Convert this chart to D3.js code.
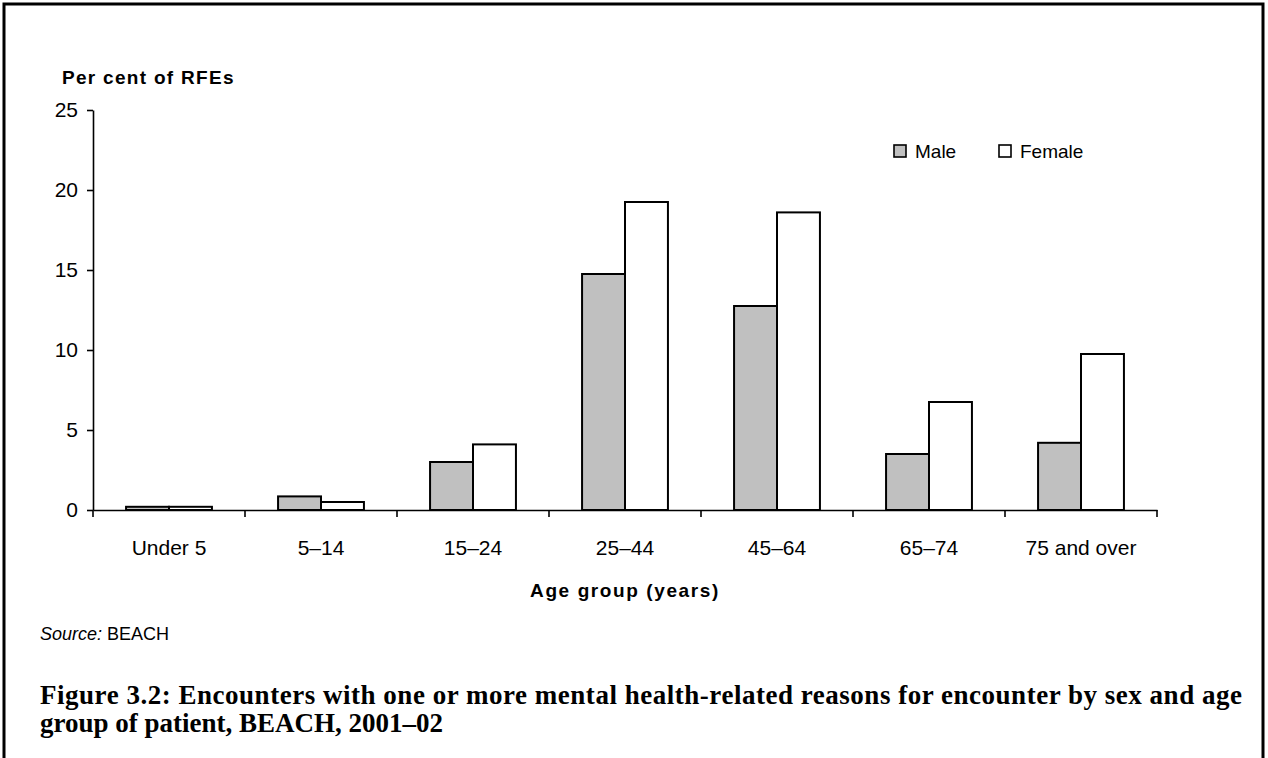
<!DOCTYPE html>
<html>
<head>
<meta charset="utf-8">
<script src="https://cdn.jsdelivr.net/npm/d3@7"></script>
<style>
  body { margin: 0; background: #fff; }
  text { font-family: Arial, "Liberation Sans", sans-serif; fill: #000; }
</style>
</head>
<body>
<div id="wrapper"></div>
<script>
// data
const ageGroups = ["Under 5", "5\u201314", "15\u201324", "25\u201344", "45\u201364", "65\u201374", "75 and over"]
const sexes = ["Male", "Female"]
const maleValues = [0.2, 0.85, 3.0, 14.75, 12.75, 3.5, 4.2]
const femaleValues = [0.2, 0.5, 4.1, 19.25, 18.6, 6.75, 9.75]
const yTicks = [0, 5, 10, 15, 20, 25]
const sexFill = { Male: "#c0c0c0", Female: "#ffffff" }

function drawChart() {
  const data = ageGroups.map((g, i) => ({
    group: g,
    values: [
      { sex: "Male", value: maleValues[i] },
      { sex: "Female", value: femaleValues[i] },
    ],
  }))

  // 1. dimensions
  let dimensions = {
    width: 1268,
    height: 758,
    margin: { top: 110, right: 111, bottom: 248, left: 93 },
  }
  dimensions.boundedWidth = dimensions.width - dimensions.margin.left - dimensions.margin.right
  dimensions.boundedHeight = dimensions.height - dimensions.margin.top - dimensions.margin.bottom

  // 2. canvas
  const wrapper = d3.select("#wrapper")
    .append("svg")
      .attr("width", dimensions.width)
      .attr("height", dimensions.height)

  // page frame (open at the bottom)
  wrapper.append("path")
      .attr("d", "M4,758V4H1263V758")
      .attr("fill", "none")
      .attr("stroke", "#000")
      .attr("stroke-width", 3)

  const bounds = wrapper.append("g")
      .attr("transform", `translate(${dimensions.margin.left},${dimensions.margin.top})`)

  // 3. scales
  const xScale = d3.scaleBand()
      .domain(ageGroups)
      .range([0, dimensions.boundedWidth])
  const sexScale = d3.scaleBand()
      .domain(sexes)
      .range([0, xScale.bandwidth()])
      .paddingOuter(0.77)
  const yScale = d3.scaleLinear()
      .domain([0, 25])
      .range([dimensions.boundedHeight, 0])

  // 4. bars
  const groups = bounds.append("g")
    .selectAll("g")
    .data(data)
    .join("g")
      .attr("transform", d => `translate(${xScale(d.group)},0)`)

  groups.selectAll("rect")
    .data(d => d.values)
    .join("rect")
      .attr("x", d => sexScale(d.sex))
      .attr("y", d => yScale(d.value))
      .attr("width", sexScale.bandwidth())
      .attr("height", d => yScale(0) - yScale(d.value))
      .attr("fill", d => sexFill[d.sex])
      .attr("stroke", "#000")
      .attr("stroke-width", 2)

  // 5. axes
  const yAxis = bounds.append("g")
      .call(d3.axisLeft(yScale).tickValues(yTicks).tickSize(6).tickPadding(9).tickSizeOuter(0))
  yAxis.select(".domain").attr("stroke-width", 1.6)
  yAxis.selectAll(".tick line").attr("stroke-width", 1.6)
  yAxis.selectAll("text")
      .style("font-size", "21px")

  const xAxis = bounds.append("g")
      .attr("transform", `translate(0,${dimensions.boundedHeight})`)
      .call(d3.axisBottom(xScale).tickSize(0).tickPadding(38).tickSizeOuter(0))
  xAxis.select(".domain").attr("stroke-width", 1.6)
  xAxis.selectAll("text")
      .style("font-size", "21px")
      .attr("dy", "0.32em")

  // category separators on the x axis
  const boundaries = ageGroups.map(g => xScale(g)).concat([xScale.range()[1]])
  xAxis.selectAll(".sep")
    .data(boundaries)
    .join("line")
      .attr("class", "sep")
      .attr("x1", d => d)
      .attr("x2", d => d)
      .attr("y1", 0)
      .attr("y2", 7)
      .attr("stroke", "#000")
      .attr("stroke-width", 1.6)

  // 6. peripherals
  wrapper.append("text")
      .attr("x", 62)
      .attr("y", 84)
      .style("font-size", "19px")
      .attr("font-weight", "bold")
      .attr("letter-spacing", 1.3)
      .text("Per cent of RFEs")

  wrapper.append("text")
      .attr("x", dimensions.margin.left + dimensions.boundedWidth / 2)
      .attr("y", 597)
      .attr("text-anchor", "middle")
      .style("font-size", "19px")
      .attr("font-weight", "bold")
      .attr("letter-spacing", 1.6)
      .text("Age group (years)")

  // legend
  const legend = wrapper.append("g")
      .attr("transform", "translate(894,145)")
  const legendItems = legend.selectAll("g")
    .data(sexes)
    .join("g")
      .attr("transform", (d, i) => `translate(${i * 105},0)`)
  legendItems.append("rect")
      .attr("width", 12)
      .attr("height", 12)
      .attr("fill", d => sexFill[d])
      .attr("stroke", "#000")
      .attr("stroke-width", 1.6)
  legendItems.append("text")
      .attr("x", 21)
      .attr("y", 13)
      .style("font-size", "19px")
      .text(d => d)

  // source note
  const source = wrapper.append("text")
      .attr("x", 40)
      .attr("y", 640)
      .style("font-size", "18px")
  source.append("tspan").attr("font-style", "italic").text("Source:")
  source.append("tspan").text(" BEACH")

  // caption (justified first line)
  const caption = wrapper.append("g")
  caption.append("text")
      .attr("x", 40)
      .attr("y", 704)
      .style("font-family", "'Liberation Serif', 'Times New Roman', serif")
      .style("font-size", "27px")
      .attr("font-weight", "bold")
      .attr("textLength", 1202)
      .attr("lengthAdjust", "spacing")
      .text("Figure 3.2: Encounters with one or more mental health-related reasons for encounter by sex and age")
  caption.append("text")
      .attr("x", 40)
      .attr("y", 732)
      .style("font-family", "'Liberation Serif', 'Times New Roman', serif")
      .style("font-size", "27px")
      .attr("font-weight", "bold")
      .text("group of patient, BEACH, 2001\u201302")
}

drawChart()
</script>
</body>
</html>
